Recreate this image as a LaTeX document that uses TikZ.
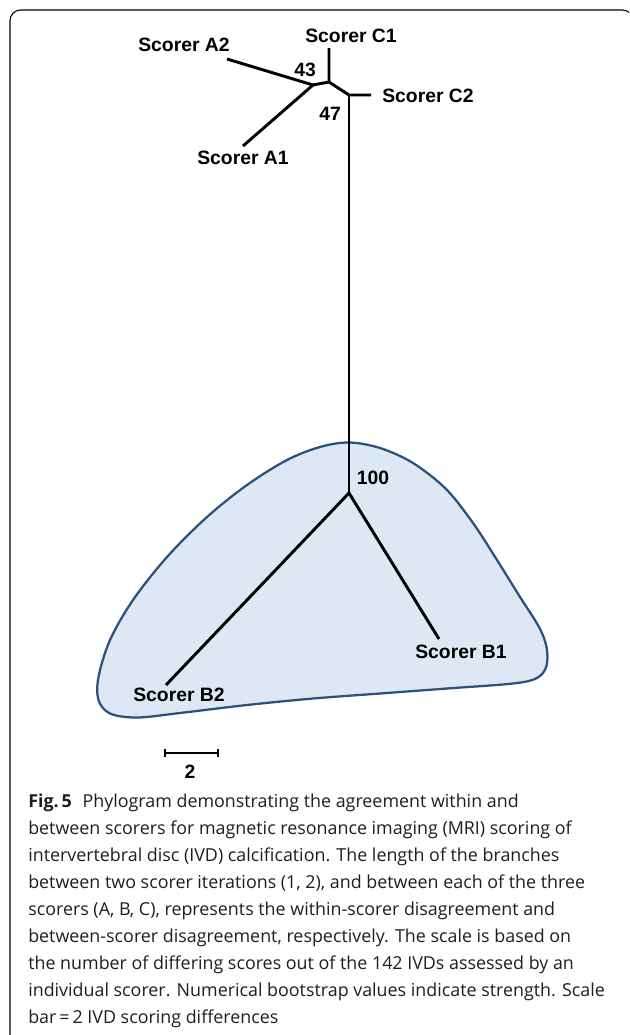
\documentclass[tikz,border=0pt]{standalone}
\usepackage{fontspec}
\usetikzlibrary{calc}
\setmainfont{Open Sans}
\newfontfamily\lblfont{Liberation Sans}
\definecolor{blobfill}{RGB}{221,232,244}
\definecolor{blobline}{RGB}{44,82,124}
\definecolor{captext}{RGB}{30,30,30}
\begin{document}
\begin{tikzpicture}[x=0.75pt,y=-0.75pt,
  branch/.style={line width=2.2pt,line join=round},
  lbl/.style={font=\lblfont\bfseries\fontsize{14.5}{16}\selectfont,inner sep=0pt},
  capline/.style={font=\fontsize{13.4}{16}\selectfont,text=captext,anchor=base west,inner sep=0pt}]
\useasboundingbox (0,0) rectangle (629,1035);
% frame
\begin{scope}
\clip (0,0) rectangle (629,1035);
\draw[line width=0.8pt,rounded corners=8] (10,1045) -- (10,10) -- (633,10) -- (633,1045);
\end{scope}
% blob
\draw[blobline,fill=blobfill,line width=1.7pt] plot[smooth cycle,tension=0.55] coordinates {
 (349,442.5) (380,448) (413,463) (446,489) (473,523) (497,560) (520,597)
 (539,627) (546.5,647) (546.5,666) (537,678) (513,683.5) (447,688.5)
 (380,693.5) (313,698.5) (247,705) (180,713) (137,717.5) (110,713.5)
 (98.5,700) (98.5,677) (110,640) (133,600) (167,557) (207,517) (247,485)
 (287,460) (320,447)};
% tree
\coordinate (nA) at (313,85);
\coordinate (nC) at (329,82);
\coordinate (nCC) at (349,95);
\coordinate (nB) at (349,493);
\coordinate (eA2) at (227,59);
\coordinate (eA1) at (243,146);
\coordinate (eC1) at (329,48);
\coordinate (eC2) at (371,95);
\coordinate (eB1) at (439,639);
\coordinate (eB2) at (166,685);
\draw[branch] (eA2) -- (nA) -- (eA1);
\draw[branch] (nA) -- (nC) -- (eC1);
\draw[branch] (nC) -- (nCC) -- (eC2);
\draw[branch] (nCC) -- (nB);
\draw[branch] (nB) -- (eB1);
\draw[branch] (nB) -- (eB2);
% labels
\node[lbl] (lA2) at (184,45) {Scorer A2};
\node[lbl] (lA1) at (243,158) {Scorer A1};
\node[lbl] (lC1) at (351,36) {Scorer C1};
\node[lbl] (lC2) at (428,96) {Scorer C2};
\node[lbl] (b43) at (305,70) {43};
\node[lbl] (b47) at (330,114) {47};
\node[lbl] (b100) at (373,478) {100};
\node[lbl] (lB1) at (461,652) {Scorer B1};
\node[lbl] (lB2) at (179,695) {Scorer B2};
% scale bar
\coordinate (sL) at (165,753);
\coordinate (sR) at (218,753);
\draw[line width=1.7pt] (sL) -- (sR);
\draw[line width=2pt] ($(sL)+(0,-4)$) -- ($(sL)+(0,4)$);
\draw[line width=2pt] ($(sR)+(0,-4)$) -- ($(sR)+(0,4)$);
\node[lbl] (sc2) at (190,772) {2};
% caption
\node[capline] (c1) at (28,807) {\textbf{Fig.\,5}\hspace{0.6em}Phylogram demonstrating the agreement within and};
\node[capline] (c2) at (28,834) {between scorers for magnetic resonance imaging (MRI) scoring of};
\node[capline] (c3) at (28,861) {intervertebral disc (IVD) calcification. The length of the branches};
\node[capline] (c4) at (28,888) {between two scorer iterations (1, 2), and between each of the three};
\node[capline] (c5) at (28,915) {scorers (A, B, C), represents the within-scorer disagreement and};
\node[capline] (c6) at (28,942) {between-scorer disagreement, respectively. The scale is based on};
\node[capline] (c7) at (28,969) {the number of differing scores out of the 142 IVDs assessed by an};
\node[capline] (c8) at (28,996) {individual scorer. Numerical bootstrap values indicate strength. Scale};
\node[capline] (c9) at (28,1023) {bar\,=\,2 IVD scoring differences};
\end{tikzpicture}
\end{document}
